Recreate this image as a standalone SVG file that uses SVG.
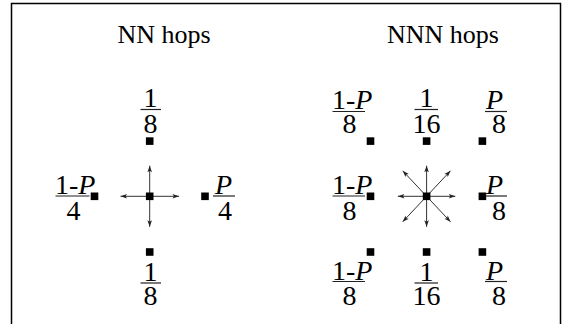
<svg xmlns="http://www.w3.org/2000/svg" width="563" height="324" viewBox="0 0 563 324">
<style>
.t{font-size:26px;font-family:"Liberation Serif","Times New Roman",serif;text-anchor:middle}
.f{font-size:28px;font-family:"Liberation Serif","Times New Roman",serif}
.c{text-anchor:middle}
.i{font-style:italic}
.rule{stroke:#222;stroke-width:1.2}
.sq{fill:#000}
.ar{stroke:#333;stroke-width:1;fill:none;marker-end:url(#ah)}
</style>
<defs>
<marker id="ah" markerUnits="userSpaceOnUse" markerWidth="10" markerHeight="8" viewBox="-7 -4 8 8" refX="0" refY="0" orient="auto">
<path d="M0,0 L-6.5,-2.3 L-5,0 L-6.5,2.3 Z" fill="#222"/>
</marker>
</defs>
<rect x="11.5" y="3.5" width="549" height="340" fill="none" stroke="#000" stroke-width="1.5"/>
<g id="title-nn"><text class="t" x="164" y="43">NN hops</text></g>
<g id="title-nnn"><text class="t" x="443" y="43">NNN hops</text></g>

<g id="connectors">
<line class="ar" x1="149.7" y1="196.3" x2="179" y2="196.3"/>
<line class="ar" x1="149.7" y1="196.3" x2="120.5" y2="196.3"/>
<line class="ar" x1="149.7" y1="196.3" x2="149.7" y2="165.7"/>
<line class="ar" x1="149.7" y1="196.3" x2="149.7" y2="226.8"/>
<line class="ar" x1="426.6" y1="196.3" x2="455.3" y2="196.3"/>
<line class="ar" x1="426.6" y1="196.3" x2="397.9" y2="196.3"/>
<line class="ar" x1="426.6" y1="196.3" x2="426.6" y2="165.7"/>
<line class="ar" x1="426.6" y1="196.3" x2="426.6" y2="226.8"/>
<line class="ar" x1="426.6" y1="196.3" x2="450.5" y2="170.8"/>
<line class="ar" x1="426.6" y1="196.3" x2="402.7" y2="170.8"/>
<line class="ar" x1="426.6" y1="196.3" x2="450.5" y2="221.8"/>
<line class="ar" x1="426.6" y1="196.3" x2="402.7" y2="221.8"/>
</g>

<g id="nn-center"><rect class="sq" x="145.9" y="192.5" width="7.6" height="7.6"/></g>
<g id="nn-top"><rect class="sq" x="145.9" y="137.3" width="7.6" height="7.6"/>
<text class="f c" x="150.5" y="106.5">1</text><line class="rule" x1="140.5" y1="109.5" x2="161" y2="109.5"/><text class="f c" x="150.5" y="132.5">8</text></g>
<g id="nn-bottom"><rect class="sq" x="145.9" y="248.2" width="7.6" height="7.6"/>
<text class="f c" x="150.5" y="280.5">1</text><line class="rule" x1="140.5" y1="283" x2="161" y2="283"/><text class="f c" x="150.5" y="305">8</text></g>
<g id="nn-left"><rect class="sq" x="90.7" y="192.5" width="7.6" height="7.6"/>
<text class="f" x="55" y="193.5">1-<tspan class="i">P</tspan></text><line class="rule" x1="55.5" y1="196" x2="89.5" y2="196"/><text class="f c" x="73.5" y="220">4</text></g>
<g id="nn-right"><rect class="sq" x="201.2" y="192.5" width="7.6" height="7.6"/>
<text class="f i" x="215" y="193.5">P</text><line class="rule" x1="213" y1="196" x2="235" y2="196"/><text class="f c" x="225" y="220">4</text></g>

<g id="nnn-center"><rect class="sq" x="422.8" y="192.5" width="7.6" height="7.6"/></g>
<g id="nnn-tl"><rect class="sq" x="366.7" y="137.3" width="7.6" height="7.6"/>
<text class="f" x="332" y="108.5">1-<tspan class="i">P</tspan></text><line class="rule" x1="332.5" y1="111.5" x2="365" y2="111.5"/><text class="f c" x="349.5" y="132.5">8</text></g>
<g id="nnn-tm"><rect class="sq" x="422.8" y="137.3" width="7.6" height="7.6"/>
<text class="f c" x="426.5" y="106.5">1</text><line class="rule" x1="414.5" y1="109.5" x2="438" y2="109.5"/><text class="f c" x="426.5" y="132.5">16</text></g>
<g id="nnn-tr"><rect class="sq" x="478.6" y="137.3" width="7.6" height="7.6"/>
<text class="f i" x="486" y="108.5">P</text><line class="rule" x1="485" y1="111.5" x2="507" y2="111.5"/><text class="f c" x="499" y="132.5">8</text></g>
<g id="nnn-ml"><rect class="sq" x="366.7" y="192.5" width="7.6" height="7.6"/>
<text class="f" x="332" y="193.5">1-<tspan class="i">P</tspan></text><line class="rule" x1="332.5" y1="196" x2="365" y2="196"/><text class="f c" x="349.5" y="220">8</text></g>
<g id="nnn-mr"><rect class="sq" x="478.6" y="192.5" width="7.6" height="7.6"/>
<text class="f i" x="486" y="193.5">P</text><line class="rule" x1="485" y1="196" x2="507" y2="196"/><text class="f c" x="499" y="220">8</text></g>
<g id="nnn-bl"><rect class="sq" x="366.7" y="248.2" width="7.6" height="7.6"/>
<text class="f" x="332" y="279.5">1-<tspan class="i">P</tspan></text><line class="rule" x1="332.5" y1="281.5" x2="365" y2="281.5"/><text class="f c" x="349.5" y="305">8</text></g>
<g id="nnn-bm"><rect class="sq" x="422.8" y="248.2" width="7.6" height="7.6"/>
<text class="f c" x="426.5" y="280.5">1</text><line class="rule" x1="414.5" y1="283" x2="438" y2="283"/><text class="f c" x="426.5" y="305">16</text></g>
<g id="nnn-br"><rect class="sq" x="478.6" y="248.2" width="7.6" height="7.6"/>
<text class="f i" x="486" y="279.5">P</text><line class="rule" x1="485" y1="281.5" x2="507" y2="281.5"/><text class="f c" x="499" y="305">8</text></g>
</svg>
